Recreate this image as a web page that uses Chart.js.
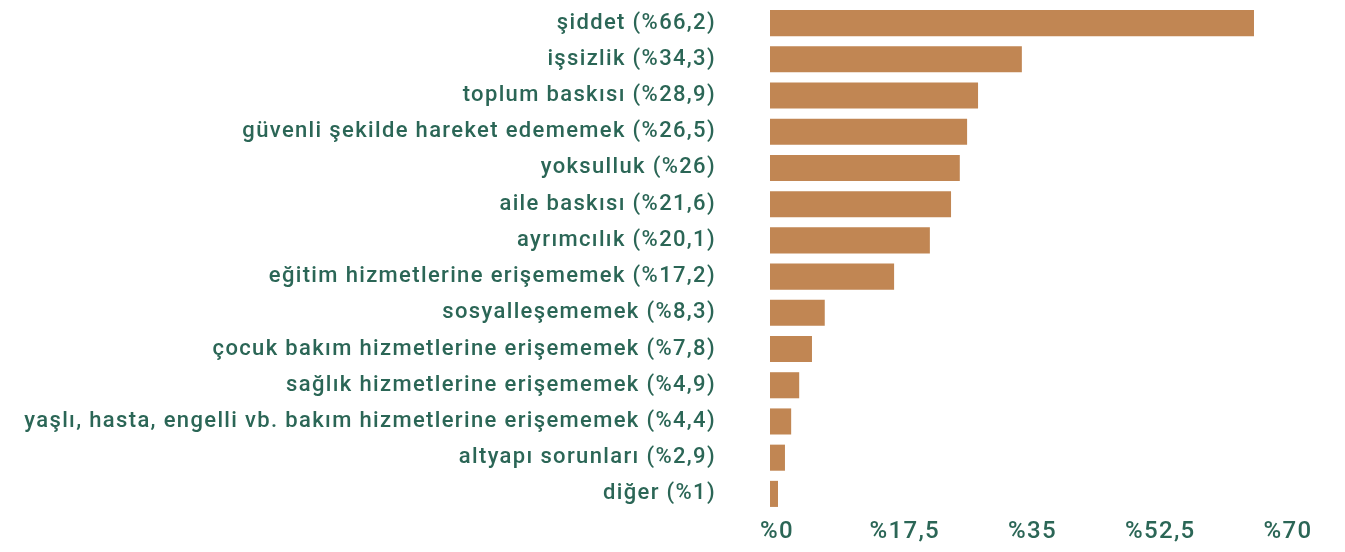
<!DOCTYPE html>
<html>
<head>
<meta charset="utf-8">
<script src="https://cdn.jsdelivr.net/npm/chart.js@4"></script>
<style>
html,body{margin:0;padding:0;background:#fff;}
#wrap{width:1345px;height:552px;position:relative;}
</style>
</head>
<body>
<div id="wrap"><canvas id="c" width="1345" height="552"></canvas></div>
<script>
const categories = [
  "şiddet (%66,2)",
  "işsizlik (%34,3)",
  "toplum baskısı (%28,9)",
  "güvenli şekilde hareket edememek (%26,5)",
  "yoksulluk (%26)",
  "aile baskısı (%21,6)",
  "ayrımcılık (%20,1)",
  "eğitim hizmetlerine erişememek (%17,2)",
  "sosyalleşememek (%8,3)",
  "çocuk bakım hizmetlerine erişememek (%7,8)",
  "sağlık hizmetlerine erişememek (%4,9)",
  "yaşlı, hasta, engelli vb. bakım hizmetlerine erişememek (%4,4)",
  "altyapı sorunları (%2,9)",
  "diğer (%1)"
];
// bar lengths as drawn in the picture
const values = [66.3, 34.5, 28.5, 27.0, 26.0, 24.8, 21.9, 17.0, 7.5, 5.75, 4.0, 2.9, 2.05, 1.1];
const tickValues = [0, 17.5, 35, 52.5, 70];
const tickLabels = ["%0", "%17,5", "%35", "%52,5", "%70"];

const textColor = "#2B6656";
const barColor = "#C18653";

const spacingPlugin = {
  id: "spacing",
  beforeDraw(chart) { chart.ctx.letterSpacing = "1.35px"; }
};

new Chart(document.getElementById("c"), {
  type: "bar",
  data: {
    labels: categories,
    datasets: [{
      data: values,
      backgroundColor: barColor,
      borderWidth: 0,
      barPercentage: 0.72,
      categoryPercentage: 1.0
    }]
  },
  plugins: [spacingPlugin],
  options: {
    indexAxis: "y",
    responsive: false,
    animation: false,
    layout: { padding: { top: 5, right: 64, left: 0, bottom: 0 } },
    plugins: { legend: { display: false }, tooltip: { enabled: false } },
    scales: {
      x: {
        min: 0, max: 70,
        afterBuildTicks: (s) => { s.ticks = tickValues.map(v => ({ value: v })); },
        afterFit: (s) => { s.height = 40; s.paddingLeft = 0; s.paddingRight = 0; },
        grid: { display: false, drawTicks: false },
        border: { display: false },
        ticks: {
          color: textColor,
          font: { family: "Roboto", size: 24, weight: "500" },
          padding: 6,
          labelOffset: 7,
          maxRotation: 0,
          autoSkip: false,
          callback: (v, i) => tickLabels[i]
        }
      },
      y: {
        afterFit: (s) => { s.width = 770; s.paddingTop = 0; s.paddingBottom = 0; },
        grid: { display: false, drawTicks: false },
        border: { display: false },
        ticks: {
          color: textColor,
          font: { family: "Roboto", size: 22, weight: "500" },
          padding: 54,
          autoSkip: false
        }
      }
    }
  }
});
</script>
</body>
</html>
